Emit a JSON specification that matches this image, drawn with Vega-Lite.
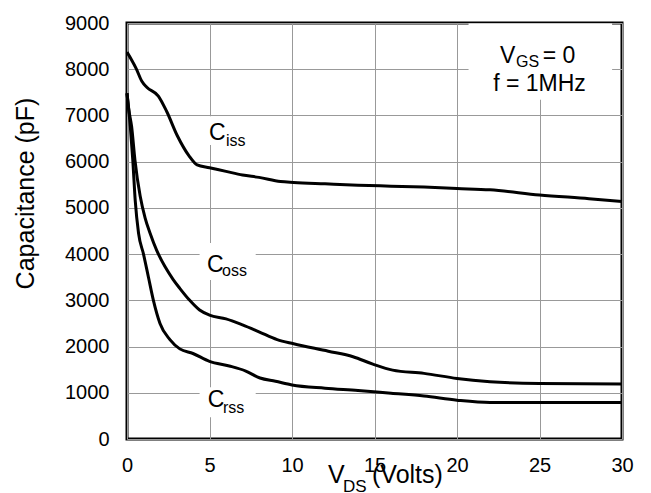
{
  "$schema": "https://vega.github.io/schema/vega-lite/v6.json",
  "width": 495,
  "height": 416,
  "autosize": "none",
  "padding": {"left": 127, "top": 23, "right": 29, "bottom": 54},
  "background": "white",
  "config": {
    "view": {"stroke": "black", "strokeWidth": 3},
    "font": "Liberation Sans",
    "text": {"font": "Liberation Sans", "color": "black"}
  },
  "datasets": {
    "curves": [
      {"s": "Ciss", "x": 0, "y": 8370},
      {"s": "Ciss", "x": 0.28, "y": 8200},
      {"s": "Ciss", "x": 0.55, "y": 8020},
      {"s": "Ciss", "x": 0.9, "y": 7740},
      {"s": "Ciss", "x": 1.2, "y": 7610},
      {"s": "Ciss", "x": 1.9, "y": 7420},
      {"s": "Ciss", "x": 2.4, "y": 7090},
      {"s": "Ciss", "x": 3.05, "y": 6560},
      {"s": "Ciss", "x": 3.75, "y": 6130},
      {"s": "Ciss", "x": 4.25, "y": 5930},
      {"s": "Ciss", "x": 5.0, "y": 5870},
      {"s": "Ciss", "x": 6.0, "y": 5790},
      {"s": "Ciss", "x": 7.0, "y": 5710},
      {"s": "Ciss", "x": 8.0, "y": 5660},
      {"s": "Ciss", "x": 9.3, "y": 5570},
      {"s": "Ciss", "x": 10.1, "y": 5550},
      {"s": "Ciss", "x": 12.0, "y": 5520},
      {"s": "Ciss", "x": 14.0, "y": 5490},
      {"s": "Ciss", "x": 16.0, "y": 5470},
      {"s": "Ciss", "x": 18.0, "y": 5450},
      {"s": "Ciss", "x": 20.0, "y": 5420},
      {"s": "Ciss", "x": 22.0, "y": 5390},
      {"s": "Ciss", "x": 25.0, "y": 5280},
      {"s": "Ciss", "x": 28.0, "y": 5200},
      {"s": "Ciss", "x": 30.0, "y": 5140},
      {"s": "Coss", "x": 0, "y": 7480},
      {"s": "Coss", "x": 0.1, "y": 7150},
      {"s": "Coss", "x": 0.28, "y": 6760},
      {"s": "Coss", "x": 0.48, "y": 6040},
      {"s": "Coss", "x": 0.8, "y": 5250},
      {"s": "Coss", "x": 1.1, "y": 4780},
      {"s": "Coss", "x": 1.4, "y": 4450},
      {"s": "Coss", "x": 1.8, "y": 4080},
      {"s": "Coss", "x": 2.3, "y": 3730},
      {"s": "Coss", "x": 2.8, "y": 3450},
      {"s": "Coss", "x": 3.2, "y": 3260},
      {"s": "Coss", "x": 3.8, "y": 3000},
      {"s": "Coss", "x": 4.4, "y": 2790},
      {"s": "Coss", "x": 5.0, "y": 2680},
      {"s": "Coss", "x": 6.0, "y": 2600},
      {"s": "Coss", "x": 7.0, "y": 2470},
      {"s": "Coss", "x": 8.0, "y": 2320},
      {"s": "Coss", "x": 9.1, "y": 2150},
      {"s": "Coss", "x": 10.1, "y": 2060},
      {"s": "Coss", "x": 12.2, "y": 1900},
      {"s": "Coss", "x": 13.7, "y": 1780},
      {"s": "Coss", "x": 14.9, "y": 1620},
      {"s": "Coss", "x": 16.1, "y": 1490},
      {"s": "Coss", "x": 18.0, "y": 1420},
      {"s": "Coss", "x": 20.0, "y": 1310},
      {"s": "Coss", "x": 22.0, "y": 1240},
      {"s": "Coss", "x": 25.0, "y": 1200},
      {"s": "Coss", "x": 30.0, "y": 1190},
      {"s": "Crss", "x": 0, "y": 7480},
      {"s": "Crss", "x": 0.2, "y": 6760},
      {"s": "Crss", "x": 0.35, "y": 6040},
      {"s": "Crss", "x": 0.5, "y": 5150},
      {"s": "Crss", "x": 0.7, "y": 4450},
      {"s": "Crss", "x": 1.0, "y": 4000},
      {"s": "Crss", "x": 1.3, "y": 3500},
      {"s": "Crss", "x": 1.6, "y": 3000},
      {"s": "Crss", "x": 2.0, "y": 2500},
      {"s": "Crss", "x": 2.6, "y": 2150},
      {"s": "Crss", "x": 3.2, "y": 1950},
      {"s": "Crss", "x": 4.0, "y": 1850},
      {"s": "Crss", "x": 5.0, "y": 1680},
      {"s": "Crss", "x": 6.2, "y": 1580},
      {"s": "Crss", "x": 7.2, "y": 1470},
      {"s": "Crss", "x": 8.06, "y": 1320},
      {"s": "Crss", "x": 9.0, "y": 1250},
      {"s": "Crss", "x": 10.0, "y": 1170},
      {"s": "Crss", "x": 12.0, "y": 1100},
      {"s": "Crss", "x": 14.0, "y": 1050},
      {"s": "Crss", "x": 16.0, "y": 990},
      {"s": "Crss", "x": 18.0, "y": 930},
      {"s": "Crss", "x": 20.0, "y": 840},
      {"s": "Crss", "x": 22.0, "y": 790},
      {"s": "Crss", "x": 25.0, "y": 790},
      {"s": "Crss", "x": 30.0, "y": 790}
    ],
    "boxes": [
      {"x": 4.4, "x2": 7.8, "y": 6360, "y2": 6980},
      {"x": 4.4, "x2": 7.8, "y": 3440, "y2": 4240},
      {"x": 4.4, "x2": 7.8, "y": 470, "y2": 1120},
      {"x": 20.7, "x2": 29.4, "y": 7340, "y2": 8990}
    ],
    "big": [
      {"t": "C", "x": 4.97, "y": 6470},
      {"t": "C", "x": 4.85, "y": 3620},
      {"t": "C", "x": 4.9, "y": 700},
      {"t": "V", "x": 22.6, "y": 8140},
      {"t": "= 0", "x": 25.2, "y": 8140}
    ],
    "sub": [
      {"t": "iss", "x": 6.0, "y": 6340},
      {"t": "oss", "x": 5.76, "y": 3535},
      {"t": "rss", "x": 5.82, "y": 570},
      {"t": "GS", "x": 23.58, "y": 8050}
    ],
    "centered": [
      {"t": "f = 1MHz", "x": 25.0, "y": 7530}
    ],
    "xtitle": [
      {"t": "V", "x": 12.18, "y": -952},
      {"t": "(Volts)", "x": 14.85, "y": -952}
    ],
    "xtitlesub": [
      {"t": "DS", "x": 13.09, "y": -1147}
    ]
  },
  "layer": [
    {
      "data": {"name": "boxes"},
      "mark": {"type": "rect", "fill": "white", "stroke": null},
      "encoding": {
        "x": {"field": "x", "type": "quantitative", "scale": {"domain": [0, 30], "nice": false, "zero": false},
          "axis": {"values": [0, 5, 10, 15, 20, 25, 30], "grid": true, "gridColor": "#999999", "gridWidth": 1, "ticks": false, "domain": false, "labelFontSize": 20, "labelFont": "Liberation Sans", "labelColor": "black", "labelPadding": 16, "labelFlush": false, "title": null}},
        "x2": {"field": "x2"},
        "y": {"field": "y", "type": "quantitative", "scale": {"domain": [0, 9000], "nice": false, "zero": false},
          "axis": {"values": [0, 1000, 2000, 3000, 4000, 5000, 6000, 7000, 8000, 9000], "format": "d", "grid": true, "gridColor": "#999999", "gridWidth": 1, "ticks": false, "domain": false, "labelFontSize": 20, "labelFont": "Liberation Sans", "labelColor": "black", "labelPadding": 18, "labelFlush": false,
            "title": "Capacitance (pF)", "titleFont": "Liberation Sans", "titleFontSize": 25, "titleFontWeight": "normal", "titleColor": "black", "titleAngle": 270, "titleAlign": "center", "titleBaseline": "middle", "titleX": -102, "titleY": 170}},
        "y2": {"field": "y2"}
      }
    },
    {
      "data": {"name": "curves"},
      "mark": {"type": "line", "color": "black", "strokeWidth": 3, "interpolate": "monotone"},
      "encoding": {
        "x": {"field": "x", "type": "quantitative"},
        "y": {"field": "y", "type": "quantitative"},
        "detail": {"field": "s"}
      }
    },
    {
      "data": {"name": "big"},
      "mark": {"type": "text", "fontSize": 23, "align": "left", "baseline": "alphabetic"},
      "encoding": {
        "x": {"field": "x", "type": "quantitative"},
        "y": {"field": "y", "type": "quantitative"},
        "text": {"field": "t"}
      }
    },
    {
      "data": {"name": "sub"},
      "mark": {"type": "text", "fontSize": 16, "align": "left", "baseline": "alphabetic"},
      "encoding": {
        "x": {"field": "x", "type": "quantitative"},
        "y": {"field": "y", "type": "quantitative"},
        "text": {"field": "t"}
      }
    },
    {
      "data": {"name": "centered"},
      "mark": {"type": "text", "fontSize": 23, "align": "center", "baseline": "alphabetic"},
      "encoding": {
        "x": {"field": "x", "type": "quantitative"},
        "y": {"field": "y", "type": "quantitative"},
        "text": {"field": "t"}
      }
    },
    {
      "data": {"name": "xtitle"},
      "mark": {"type": "text", "fontSize": 25, "align": "left", "baseline": "alphabetic"},
      "encoding": {
        "x": {"field": "x", "type": "quantitative"},
        "y": {"field": "y", "type": "quantitative"},
        "text": {"field": "t"}
      }
    },
    {
      "data": {"name": "xtitlesub"},
      "mark": {"type": "text", "fontSize": 17, "align": "left", "baseline": "alphabetic"},
      "encoding": {
        "x": {"field": "x", "type": "quantitative"},
        "y": {"field": "y", "type": "quantitative"},
        "text": {"field": "t"}
      }
    }
  ]
}
